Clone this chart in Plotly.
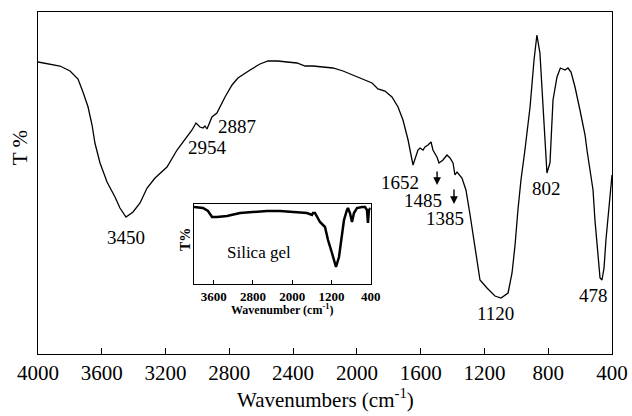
import plotly.graph_objects as go

# Main FTIR spectrum (wavenumber, transmittance in arbitrary units)
wavenumber = [4000, 3925, 3862, 3799, 3749, 3718, 3686, 3661, 3643, 3611, 3567, 3517, 3486, 3448,
              3404, 3360, 3316, 3266, 3191, 3128, 3065, 3034, 3009, 2984, 2965, 2953, 2940, 2921,
              2909, 2878, 2859, 2827, 2783, 2746, 2670, 2608, 2557, 2495, 2438, 2376, 2325, 2275,
              2213, 2150, 2087, 2024, 1962, 1905, 1868, 1824, 1780, 1742, 1711, 1679, 1648, 1617,
              1604, 1585, 1573, 1554, 1535, 1523, 1498, 1485, 1460, 1435, 1416, 1397, 1385, 1372,
              1341, 1316, 1290, 1272, 1247, 1228, 1184, 1134, 1096, 1052, 1027, 1008, 990, 971,
              946, 914, 889, 871, 852, 833, 808, 789, 770, 745, 724, 695, 676, 657, 632, 601,
              569, 557, 538, 519, 507, 488, 475, 463, 450, 438, 425, 413, 400]
transmittance = [292, 290, 288, 283, 275, 262, 247, 229, 211, 191, 172, 157, 146, 137,
                 142, 151, 166, 176, 187, 204, 217, 224, 231, 227, 226, 228, 225, 233,
                 237, 241, 247, 257, 269, 276, 284, 290, 293, 293, 292, 291, 288, 288,
                 287, 286, 283, 279, 275, 271, 265, 263, 257, 247, 234, 214, 189, 204,
                 206, 204, 207, 209, 212, 204, 197, 191, 194, 199, 196, 191, 179, 182,
                 176, 164, 139, 121, 92, 74, 66, 58, 56, 61, 81, 109, 144, 174,
                 204, 247, 294, 319, 301, 244, 181, 191, 254, 277, 286, 284, 286, 282, 267, 244,
                 219, 204, 184, 164, 134, 94, 76, 74, 86, 114, 134, 159, 179]

# Inset: silica gel spectrum
inset_wavenumber = [4000, 3817, 3715, 3633, 3531, 3328, 3063, 2798, 2513, 2248, 1983, 1698, 1596,
                    1576, 1535, 1494, 1433, 1331, 1270, 1189, 1107, 1046, 985, 944, 883, 863, 822,
                    781, 741, 680, 578, 517, 476, 456, 435, 400]
inset_transmittance = [77, 76, 73, 67, 67, 68, 71, 72, 73, 73, 72, 71, 69,
                       71, 71, 67, 62, 57, 44, 31, 17, 27, 51, 64, 74, 76, 71,
                       62, 71, 76, 77, 77, 74, 61, 74, 76]

main_ticks = [4000, 3600, 3200, 2800, 2400, 2000, 1600, 1200, 800, 400]
inset_ticks = [3600, 2800, 2000, 1200, 400]

# Peak labels: (text, wavenumber, T)
peak_text = ["3450", "2954", "2887", "1652", "1485", "1385", "1120", "802", "478"]
peak_x = [3448, 2934, 2752, 1730, 1585, 1447, 1128, 808, 519]
peak_y = [117, 207, 228, 172, 154, 136, 41, 166, 59]

# Arrows: (x, tail T, head T)
arrow_x = [1497, 1391]
arrow_tail = [184, 166]
arrow_head = [169, 150]

FONT = "Liberation Serif"

fig = go.Figure()
fig.add_trace(go.Scatter(x=wavenumber, y=transmittance, mode="lines",
                         line=dict(color="black", width=1.3), xaxis="x", yaxis="y",
                         showlegend=False, hoverinfo="skip"))
fig.add_trace(go.Scatter(x=inset_wavenumber, y=inset_transmittance, mode="lines",
                         line=dict(color="black", width=2.5), xaxis="x2", yaxis="y2",
                         showlegend=False, hoverinfo="skip"))

annotations = []
for t, x, y in zip(peak_text, peak_x, peak_y):
    annotations.append(dict(x=x, y=y, xref="x", yref="y", text=t, showarrow=False,
                            xanchor="center", yanchor="middle",
                            font=dict(family=FONT, size=19, color="black")))
for x, yt, yh in zip(arrow_x, arrow_tail, arrow_head):
    annotations.append(dict(x=x, y=yh, xref="x", yref="y", ax=x, ay=yt, axref="x", ayref="y",
                            text="", showarrow=True, arrowhead=2, arrowsize=1.1,
                            arrowwidth=1.4, arrowcolor="black"))

def paper_text(x, y, text, size, angle=0):
    return dict(x=x, y=y, xref="paper", yref="paper", text=text, showarrow=False,
                xanchor="center", yanchor="middle", textangle=angle,
                font=dict(family=FONT, size=size, color="black"))

# Axis titles
annotations.append(paper_text(0.5, -0.13, "Wavenumbers (cm<sup>-1</sup>)", 21))
annotations.append(paper_text(-0.031, 0.602, "T %", 21, -90))
# Inset texts
annotations.append(paper_text(0.4251, 0.131, "<b>Wavenumber (cm<sup>-1</sup>)</b>", 12))
annotations.append(paper_text(0.2561, 0.333, "<b>T%</b>", 14, -90))
annotations.append(paper_text(0.385, 0.298, "Silica gel", 17))

fig.update_layout(
    width=632, height=416,
    margin=dict(l=38, r=20, t=12, b=62, autoexpand=False),
    paper_bgcolor="white", plot_bgcolor="white",
    font=dict(family=FONT, color="black"),
    xaxis=dict(range=[4000, 400], tickvals=main_ticks, ticks="inside", ticklen=6,
               tickcolor="black", showline=True, linecolor="black", linewidth=1,
               mirror=True, showgrid=False, zeroline=False, automargin=False,
               tickfont=dict(family=FONT, size=21, color="black"), domain=[0, 1]),
    yaxis=dict(range=[0, 342], showticklabels=False, ticks="", showline=True,
               linecolor="black", linewidth=1, mirror=True, showgrid=False,
               zeroline=False, automargin=False, domain=[0, 1]),
    xaxis2=dict(range=[4000, 400], tickvals=inset_ticks, ticks="inside", ticklen=4,
                tickcolor="black", showline=True, linecolor="black", linewidth=1,
                mirror=True, showgrid=False, zeroline=False, anchor="y2", automargin=False,
                tickfont=dict(family=FONT, size=13, color="black", weight="bold"),
                domain=[0.2718, 0.5796]),
    yaxis2=dict(range=[0, 80], showticklabels=False, ticks="", showline=True,
                linecolor="black", linewidth=1, mirror=True, showgrid=False,
                zeroline=False, anchor="x2", automargin=False, domain=[0.2047, 0.4386]),
    annotations=annotations,
)

fig.write_html("out.html", config={"displayModeBar": False},
               post_script="document.body.style.margin='0';")
